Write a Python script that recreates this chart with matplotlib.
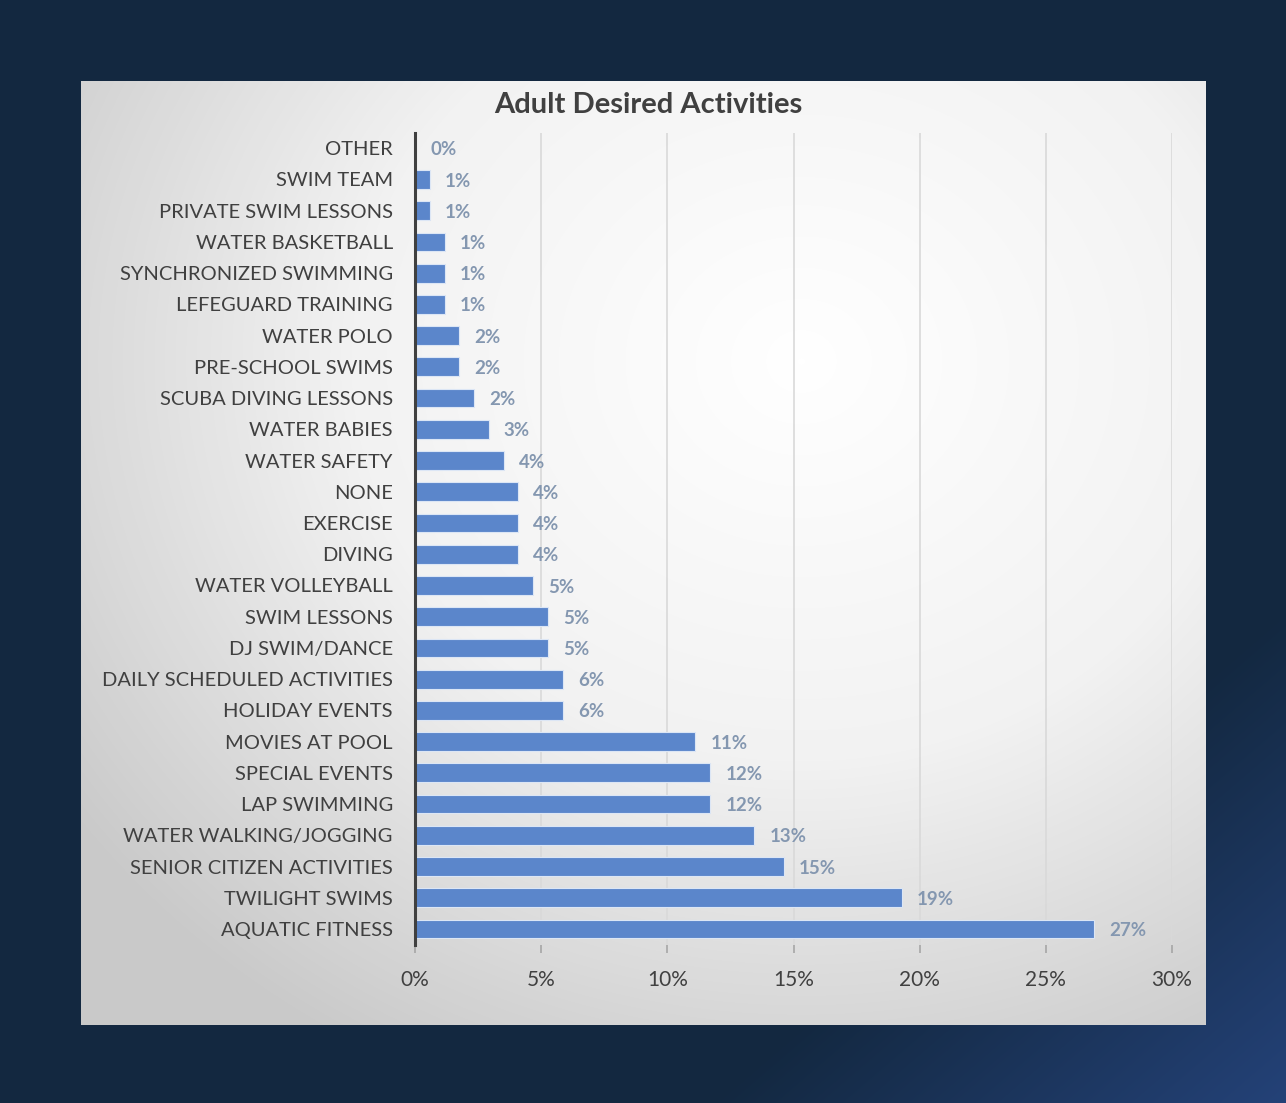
import numpy as np
import matplotlib.pyplot as plt
from matplotlib.colors import LinearSegmentedColormap
from matplotlib.ticker import PercentFormatter

# survey responses, share of adults (percent), top of chart first
activities = [
    "OTHER", "SWIM TEAM", "PRIVATE SWIM LESSONS", "WATER BASKETBALL",
    "SYNCHRONIZED SWIMMING", "LEFEGUARD TRAINING", "WATER POLO",
    "PRE-SCHOOL SWIMS", "SCUBA DIVING LESSONS", "WATER BABIES",
    "WATER SAFETY", "NONE", "EXERCISE", "DIVING", "WATER VOLLEYBALL",
    "SWIM LESSONS", "DJ SWIM/DANCE", "DAILY SCHEDULED ACTIVITIES",
    "HOLIDAY EVENTS", "MOVIES AT POOL", "SPECIAL EVENTS", "LAP SWIMMING",
    "WATER WALKING/JOGGING", "SENIOR CITIZEN ACTIVITIES", "TWILIGHT SWIMS",
    "AQUATIC FITNESS",
]
share = [
    0.0, 0.58, 0.58, 1.17, 1.17, 1.17, 1.75, 1.75, 2.34, 2.92,
    3.51, 4.09, 4.09, 4.09, 4.68, 5.26, 5.26, 5.85, 5.85, 11.11,
    11.70, 11.70, 13.45, 14.62, 19.30, 26.90,
]
x_ticks = [0, 5, 10, 15, 20, 25, 30]

plt.rcParams['font.family'] = ['Lato', 'DejaVu Sans']

W, H = 1286, 1103
fig = plt.figure(figsize=(W / 100, H / 100), dpi=100)

# dark navy backdrop with a blue sweep into the lower right corner
bg = fig.add_axes([0, 0, 1, 1])
yy, xx = np.mgrid[0:H, 0:W]
t = np.clip(((xx / W) + (yy / H) - 1.55) / 0.45, 0, 1)
navy = np.array([0x13, 0x28, 0x40]) / 255
blue = np.array([0x24, 0x42, 0x78]) / 255
bg.imshow(navy + t[..., None] * (blue - navy), aspect='auto', interpolation='bilinear')
bg.axis('off')

# light panel with a soft radial highlight
panel = fig.add_axes([81 / W, 1 - 1025 / H, 1125 / W, 944 / H])
py, px = np.mgrid[0:944, 0:1125]
r = np.hypot((px - 720) / 900, (py - 280) / 800)
panel_cmap = LinearSegmentedColormap.from_list('panel', ['#ffffff', '#f2f2f2', '#c9c9c9'])
panel.imshow(np.clip(r, 0, 1), cmap=panel_cmap, vmin=0, vmax=1, aspect='auto')
panel.axis('off')

ax = fig.add_axes([415 / W, 1 - 944.6 / H, 757 / W, 812 / H])
ax.patch.set_alpha(0)
y = np.arange(len(activities))
ax.barh(y, share, height=0.6, color='#5b86cb', edgecolor='#dce6f5', linewidth=0.8, zorder=3)

for yi, v in zip(y, share):
    ax.text(v + 0.6, yi + 0.05, f"{v:.0f}%", va='center', ha='left',
            fontsize=13.5, fontweight='bold', color='#8497b0', zorder=4)

ax.set_ylim(len(activities) - 0.5, -0.5)
ax.set_xlim(0, 30)
ax.set_yticks(y)
ax.set_yticklabels(activities, fontsize=14.5, color='#404040')
ax.set_xticks(x_ticks)
ax.xaxis.set_major_formatter(PercentFormatter(decimals=0))
ax.tick_params(axis='x', labelsize=15, labelcolor='#404040', colors='#a6a6a6',
               length=6, width=1.2, pad=12)
ax.tick_params(axis='y', length=0, pad=16)
ax.grid(axis='x', color='#d9d9d9', linewidth=1.2, zorder=0)
for side in ['top', 'right', 'bottom']:
    ax.spines[side].set_visible(False)
ax.spines['left'].set_color('#404040')
ax.spines['left'].set_linewidth(2.2)
ax.spines['left'].set_zorder(5)

fig.text(648 / W, 1 - 105 / H, "Adult Desired Activities", ha='center', va='center',
         fontsize=21, fontweight='bold', color='#404040')

fig.savefig('out.png', dpi=100)
